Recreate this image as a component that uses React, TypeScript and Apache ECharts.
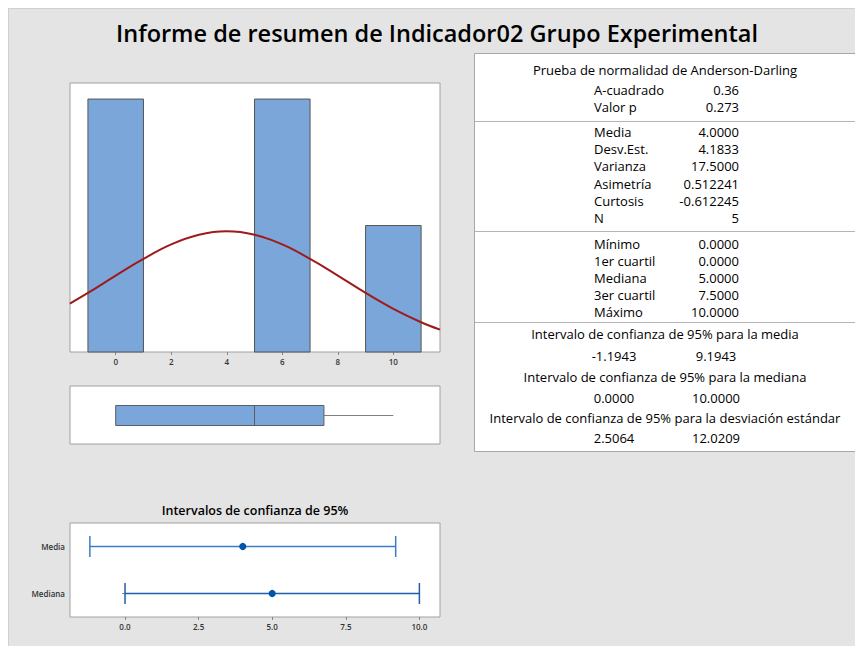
import React, { useEffect, useRef } from "react";
import * as echarts from "echarts";

// ---------- data ----------
const titleText = "Informe de resumen de Indicador02 Grupo Experimental";

const binStarts = [-1, 5, 9];
const binEnds = [1, 7, 11];
const binCounts = [2, 2, 1];

const normalX = [-1.65, -1, 0, 1, 2, 3, 4, 5, 6, 7, 8, 9, 10, 11, 11.68];
const normalY = [0.383, 0.467, 0.604, 0.737, 0.851, 0.927, 0.954, 0.927, 0.851, 0.737, 0.604, 0.467, 0.341, 0.235, 0.177];

const histTicks = [0, 2, 4, 6, 8, 10];

const boxStats = [0, 0, 5, 7.5, 10]; // min, Q1, median, Q3, max

const ciTitle = "Intervalos de confianza de 95%";
const ciLabels = ["Media", "Mediana"];
const ciLow = [-1.1943, 0];
const ciEst = [4, 5];
const ciHigh = [9.1943, 10];
const ciTicks = [0, 2.5, 5, 7.5, 10];

const adTitle = "Prueba de normalidad de Anderson-Darling";
const adLabels = ["A-cuadrado", "Valor p"];
const adValues = ["0.36", "0.273"];

const momentLabels = ["Media", "Desv.Est.", "Varianza", "Asimetría", "Curtosis", "N"];
const momentValues = ["4.0000", "4.1833", "17.5000", "0.512241", "-0.612245", "5"];

const quantLabels = ["Mínimo", "1er cuartil", "Mediana", "3er cuartil", "Máximo"];
const quantValues = ["0.0000", "0.0000", "5.0000", "7.5000", "10.0000"];

const intervalTitles = [
  "Intervalo de confianza de 95% para la media",
  "Intervalo de confianza de 95% para la mediana",
  "Intervalo de confianza de 95% para la desviación estándar",
];
const intervalLow = ["-1.1943", "0.0000", "2.5064"];
const intervalHigh = ["9.1943", "10.0000", "12.0209"];

// ---------- layout (chart coords = page - 8) ----------
const OFF = 8;
const FONT = "'Open Sans', 'Noto Sans', sans-serif";

export default function App() {
  const ref = useRef<HTMLDivElement>(null);

  useEffect(() => {
    if (!ref.current) return;
    const chart = echarts.init(ref.current, undefined, { renderer: "svg" });

    const txt = (x: number, y: number, text: string, align: string, size = 13, weight: any = "normal") => ({
      type: "text",
      x: x - OFF,
      y: y - OFF,
      silent: true,
      style: {
        text,
        fill: "#000",
        font: `${weight} ${size}px ${FONT}`,
        textAlign: align,
        textVerticalAlign: "middle",
      },
    });
    const hline = (y: number, x1: number, x2: number, color = "#b4b4b4") => ({
      type: "line",
      silent: true,
      shape: { x1: x1 - OFF, y1: y - OFF + 0.5, x2: x2 - OFF, y2: y - OFF + 0.5 },
      style: { stroke: color, lineWidth: 1 },
    });

    const graphics: any[] = [];
    // table background
    graphics.push({
      type: "rect",
      silent: true,
      shape: { x: 474 - OFF + 0.5, y: 53 - OFF + 0.5, width: 400, height: 398 },
      style: { fill: "#fff", stroke: "#a8a8a8", lineWidth: 1 },
      z: 0,
    });
    const labX = 594;
    const valX = 739;
    const cx = 665;
    graphics.push(txt(cx, 70, adTitle, "center"));
    adLabels.forEach((l, i) => {
      graphics.push(txt(labX, 90 + i * 17, l, "left"));
      graphics.push(txt(valX, 90 + i * 17, adValues[i], "right"));
    });
    graphics.push(hline(121, 475, 855));
    momentLabels.forEach((l, i) => {
      graphics.push(txt(labX, 132 + i * 17.2, l, "left"));
      graphics.push(txt(valX, 132 + i * 17.2, momentValues[i], "right"));
    });
    graphics.push(hline(231, 475, 855));
    quantLabels.forEach((l, i) => {
      graphics.push(txt(labX, 244 + i * 17, l, "left"));
      graphics.push(txt(valX, 244 + i * 17, quantValues[i], "right"));
    });
    graphics.push(hline(322, 475, 855));
    const intY = [334, 377, 418];
    const valY = [356, 398, 438];
    intervalTitles.forEach((t, i) => {
      graphics.push(txt(cx, intY[i], t, "center"));
      graphics.push(txt(614, valY[i], intervalLow[i], "center"));
      graphics.push(txt(716, valY[i], intervalHigh[i], "center"));
    });
    // main title
    graphics.push(txt(437, 33, titleText, "center", 23.5, 600));
    // CI title
    graphics.push(txt(255, 510, ciTitle, "center", 12.5, 600));
    // top/left border of panel
    graphics.push({ type: "line", silent: true, shape: { x1: 0, y1: 0.5, x2: 847, y2: 0.5 }, style: { stroke: "#d0d0d0", lineWidth: 1 } });
    graphics.push({ type: "line", silent: true, shape: { x1: 0.5, y1: 0, x2: 0.5, y2: 638 }, style: { stroke: "#d0d0d0", lineWidth: 1 } });

    const gridStyle = { show: true, backgroundColor: "#fff", borderColor: "#a0a0a0", borderWidth: 1 };
    const blue = "#7ba6d9";

    const option: any = {
      animation: false,
      backgroundColor: "#e4e4e4",
      grid: [
        { left: 62, top: 75, width: 370, height: 269, ...gridStyle },
        { left: 62, top: 378, width: 370, height: 58, ...gridStyle },
        { left: 62, top: 515, width: 370, height: 94, ...gridStyle },
      ],
      xAxis: [
        {
          type: "value",
          gridIndex: 0,
          min: -1.646,
          max: 11.68,
          splitLine: { show: false },
          axisLine: { show: false },
          axisTick: { show: true, customValues: histTicks, length: 3, lineStyle: { color: "#888" } },
          axisLabel: {
            customValues: histTicks,
            fontSize: 8,
            fontWeight: 600,
            color: "#333",
            fontFamily: FONT,
            margin: 5,
          },
        },
        {
          type: "value",
          gridIndex: 1,
          min: -1.646,
          max: 11.68,
          splitLine: { show: false },
          axisLine: { show: false },
          axisTick: { show: false },
          axisLabel: { show: false },
        },
        {
          type: "value",
          gridIndex: 2,
          min: -1.869,
          max: 10.7,
          splitLine: { show: false },
          axisLine: { show: false },
          axisTick: { show: true, customValues: ciTicks, length: 3, lineStyle: { color: "#888" } },
          axisLabel: {
            customValues: ciTicks,
            formatter: (v: number) => v.toFixed(1),
            fontSize: 8,
            fontWeight: 600,
            color: "#333",
            fontFamily: FONT,
            margin: 5,
          },
        },
      ],
      yAxis: [
        { type: "value", gridIndex: 0, min: 0, max: 2.127, show: false },
        { type: "value", gridIndex: 1, min: 0, max: 1, show: false },
        {
          type: "category",
          gridIndex: 2,
          data: ciLabels,
          inverse: true,
          axisLine: { show: false },
          axisTick: { show: true, alignWithLabel: true, length: 3, lineStyle: { color: "#888" } },
          axisLabel: { fontSize: 8, fontWeight: 600, color: "#333", fontFamily: FONT, margin: 5 },
          splitLine: { show: false },
        },
      ],
      series: [
        {
          type: "custom",
          xAxisIndex: 0,
          yAxisIndex: 0,
          data: binCounts.map((c, i) => [binStarts[i], binEnds[i], c]),
          encode: { x: [0, 1], y: 2 },
          renderItem: (params: any, api: any) => {
            const p0 = api.coord([api.value(0), api.value(2)]);
            const p1 = api.coord([api.value(1), 0]);
            return {
              type: "rect",
              shape: { x: p0[0], y: p0[1], width: p1[0] - p0[0], height: p1[1] - p0[1] },
              style: { fill: blue, stroke: "#555", lineWidth: 1 },
            };
          },
          z: 2,
        },
        {
          type: "line",
          xAxisIndex: 0,
          yAxisIndex: 0,
          data: normalX.map((x, i) => [x, normalY[i]]),
          smooth: 0.4,
          showSymbol: false,
          lineStyle: { color: "#9e1b1b", width: 2 },
          z: 3,
        },
        {
          type: "custom",
          xAxisIndex: 1,
          yAxisIndex: 1,
          data: [boxStats],
          encode: { x: [0, 1, 2, 3, 4] },
          renderItem: (params: any, api: any) => {
            const mn = api.coord([api.value(0), 0.5]);
            const q1 = api.coord([api.value(1), 0.5]);
            const md = api.coord([api.value(2), 0.5]);
            const q3 = api.coord([api.value(3), 0.5]);
            const mx = api.coord([api.value(4), 0.5]);
            const h = 10;
            const cy = Math.round(q1[1]) + 0.5;
            return {
              type: "group",
              children: [
                { type: "line", shape: { x1: mn[0], y1: cy, x2: q1[0], y2: cy }, style: { stroke: "#808080", lineWidth: 1 } },
                { type: "line", shape: { x1: q3[0], y1: cy, x2: mx[0], y2: cy }, style: { stroke: "#808080", lineWidth: 1 } },
                {
                  type: "rect",
                  shape: { x: q1[0], y: cy - h, width: q3[0] - q1[0], height: 2 * h },
                  style: { fill: blue, stroke: "#5a5f66", lineWidth: 1 },
                },
                { type: "line", shape: { x1: md[0], y1: cy - h, x2: md[0], y2: cy + h }, style: { stroke: "#5a5f66", lineWidth: 1 } },
              ],
            };
          },
        },
        {
          type: "custom",
          xAxisIndex: 2,
          yAxisIndex: 2,
          data: ciLabels.map((l, i) => [i, ciLow[i], ciEst[i], ciHigh[i]]),
          encode: { y: 0, x: [1, 2, 3] },
          renderItem: (params: any, api: any) => {
            const idx = api.value(0);
            const lo = api.coord([api.value(1), idx]);
            const es = api.coord([api.value(2), idx]);
            const hi = api.coord([api.value(3), idx]);
            const color = idx === 0 ? "#3a7cc8" : "#1f5ea8";
            const cy = lo[1];
            const h = 10.5;
            return {
              type: "group",
              children: [
                { type: "line", shape: { x1: lo[0], y1: cy, x2: hi[0], y2: cy }, style: { stroke: color, lineWidth: 1.5 } },
                { type: "line", shape: { x1: lo[0], y1: cy - h, x2: lo[0], y2: cy + h }, style: { stroke: color, lineWidth: 1.5 } },
                { type: "line", shape: { x1: hi[0], y1: cy - h, x2: hi[0], y2: cy + h }, style: { stroke: color, lineWidth: 1.5 } },
                { type: "circle", shape: { cx: es[0], cy, r: 3.6 }, style: { fill: "#0055a8" } },
              ],
            };
          },
        },
      ],
      graphic: graphics,
    };

    chart.setOption(option);
    return () => chart.dispose();
  }, []);

  return (
    <div
      ref={ref}
      style={{ position: "fixed", left: 8, top: 8, width: 847, height: 638 }}
    />
  );
}
